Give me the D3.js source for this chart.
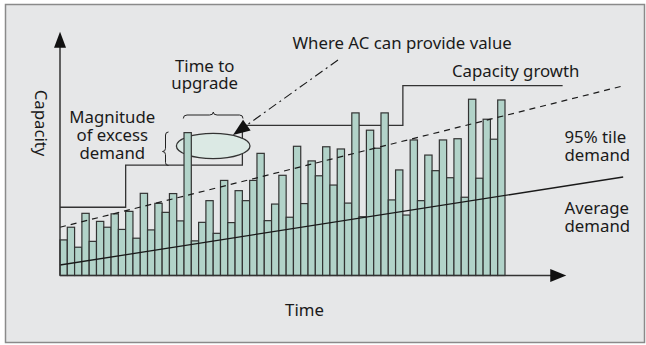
<!DOCTYPE html>
<html><head><meta charset="utf-8">
<script src="https://cdn.jsdelivr.net/npm/d3@7"></script>
<style>html,body{margin:0;padding:0;background:#fff}svg{display:block}text{font-family:"Noto Sans",sans-serif;fill:#1a1a1a}</style>
</head><body>
<script>
// ---- data ----
const demand = [14.6,19.8,11.6,25.5,14.0,22.2,19.8,25.3,18.9,26.3,15.3,33.7,18.7,29.6,25.9,33.6,22.4,58.6,14.2,21.8,
  30.7,17.3,39.0,21.7,34.8,30.7,39.0,50.1,22.5,29.3,41.1,23.9,53.0,29.5,47.0,40.9,52.8,37.1,51.9,29.7,
  66.7,24.1,59.6,52.2,66.7,31.0,43.3,24.8,55.6,30.7,49.4,43.0,55.6,40.1,56.1,32.1,72.3,39.9,64.1,55.9,72.0];
const averageLine = [[0,4.3],[77.2,40.4]];
const percentileLine = [[0,19.8],[77.1,77.7]];
const capacitySteps = [[0,28.0],[9,28.0],[9,45.3],[25,45.3],[25,61.6],[47,61.6],[47,77.9],[68.9,77.9]];
const labels = {
  yAxis: "Capacity", xAxis: "Time",
  ac: "Where AC can provide value", upgrade: ["Time to","upgrade"],
  growth: "Capacity growth", excess: ["Magnitude","of excess","demand"],
  p95: ["95% tile","demand"], avg: ["Average","demand"]
};

const W = 646, H = 345;
const x = d3.scaleLinear().domain([0, demand.length]).range([60, 505]);
const y = d3.scaleLinear().domain([0, 100]).range([275.5, 31.7]);

const svg = d3.select("body").append("svg").attr("width", W).attr("height", H);
svg.append("rect").attr("x",5.5).attr("y",4.5).attr("width",639).attr("height",338)
  .attr("fill","#e6e7e8").attr("stroke","#8a8a8a").attr("stroke-width",1.5);

const line = d3.line().x(d=>x(d[0])).y(d=>y(d[1]));

// capacity step line
svg.append("path").attr("d", line(capacitySteps)).attr("fill","none").attr("stroke","#333").attr("stroke-width",1.3);

// ellipse (area where AC helps)
svg.append("ellipse").attr("cx", x(21)).attr("cy", y(53.1)).attr("rx",36.8).attr("ry",12.6)
  .attr("fill","#dbe9e4").attr("stroke","#333").attr("stroke-width",1.3);

// bars
svg.append("g").selectAll("rect").data(demand).join("rect")
  .attr("x",(d,i)=>x(i)).attr("y",d=>y(d))
  .attr("width",x(1)-x(0)).attr("height",d=>y(0)-y(d))
  .attr("fill","#b2d3c9").attr("stroke","#333").attr("stroke-width",1.2);

// trend lines
svg.append("path").attr("d", line(averageLine)).attr("fill","none").attr("stroke","#1a1a1a").attr("stroke-width",1.3);
svg.append("path").attr("d", line(percentileLine)).attr("fill","none").attr("stroke","#1a1a1a").attr("stroke-width",1.2).attr("stroke-dasharray","6,5");

// dash-dot pointer with arrowhead
const p0 = [338, 60], p1 = [233, 135];
const dx = p1[0]-p0[0], dy = p1[1]-p0[1], L = Math.hypot(dx,dy), ux = dx/L, uy = dy/L;
svg.append("line").attr("x1",p0[0]).attr("y1",p0[1]).attr("x2",p1[0]-ux*10).attr("y2",p1[1]-uy*10)
  .attr("stroke","#1a1a1a").attr("stroke-width",1.1).attr("stroke-dasharray","9,4,2,4");
const hl = 17, hw = 6.5;
svg.append("path").attr("d", `M${p1[0]},${p1[1]}L${p1[0]-ux*hl-uy*hw},${p1[1]-uy*hl+ux*hw}L${p1[0]-ux*hl+uy*hw},${p1[1]-uy*hl-ux*hw}Z`)
  .attr("fill","#111");

// axes
const axisEnd = 69.4;
svg.append("line").attr("x1",x(0)).attr("y1",y(0)).attr("x2",x(axisEnd)-10).attr("y2",y(0)).attr("stroke","#333").attr("stroke-width",1.5);
svg.append("line").attr("x1",x(0)).attr("y1",y(0)).attr("x2",x(0)).attr("y2",y(100)+10).attr("stroke","#333").attr("stroke-width",1.5);
svg.append("path").attr("d",`M${x(axisEnd)},${y(0)}L${x(axisEnd)-16},${y(0)-6.5}L${x(axisEnd)-16},${y(0)+6.5}Z`).attr("fill","#111");
svg.append("path").attr("d",`M${x(0)},${y(100)}L${x(0)-6},${y(100)+16}L${x(0)+6},${y(100)+16}Z`).attr("fill","#111");

// braces
svg.append("path").attr("d","M183.3,118.5 Q183.3,115 187,115 L209.5,115 Q213.3,115 213.3,112 Q213.3,115 217.1,115 L239.5,115 Q243,115 243,118.5")
  .attr("fill","none").attr("stroke","#222").attr("stroke-width",1);
svg.append("path").attr("d","M168.5,132 Q165.5,132 165.5,135 L165.5,148.3 Q165.5,151.5 162.5,151.5 Q165.5,151.5 165.5,154.7 L165.5,162.5 Q165.5,165.5 168.5,165.5")
  .attr("fill","none").attr("stroke","#222").attr("stroke-width",1);

// text
const fs = 16.8;
function txt(s, tx, ty, anchor="start"){
  return svg.append("text").attr("x",tx).attr("y",ty).attr("text-anchor",anchor).attr("font-size",fs).text(s);
}
txt(labels.ac, 292.5, 49);
txt(labels.upgrade[0], 204.7, 72.3, "middle");
txt(labels.upgrade[1], 204.7, 89.3, "middle");
txt(labels.growth, 452, 77.3);
labels.excess.forEach((s,i)=>txt(s, 112.3, 123.3 + i*18, "middle"));
labels.p95.forEach((s,i)=>txt(s, 564.5, 143.3 + i*17.4));
labels.avg.forEach((s,i)=>txt(s, 564.5, 214.3 + i*17.4));
txt(labels.xAxis, 304.5, 316, "middle");
svg.append("text").attr("transform","translate(35,123) rotate(90)").attr("text-anchor","middle")
  .attr("font-size",fs).text(labels.yAxis);
</script>
</body></html>
